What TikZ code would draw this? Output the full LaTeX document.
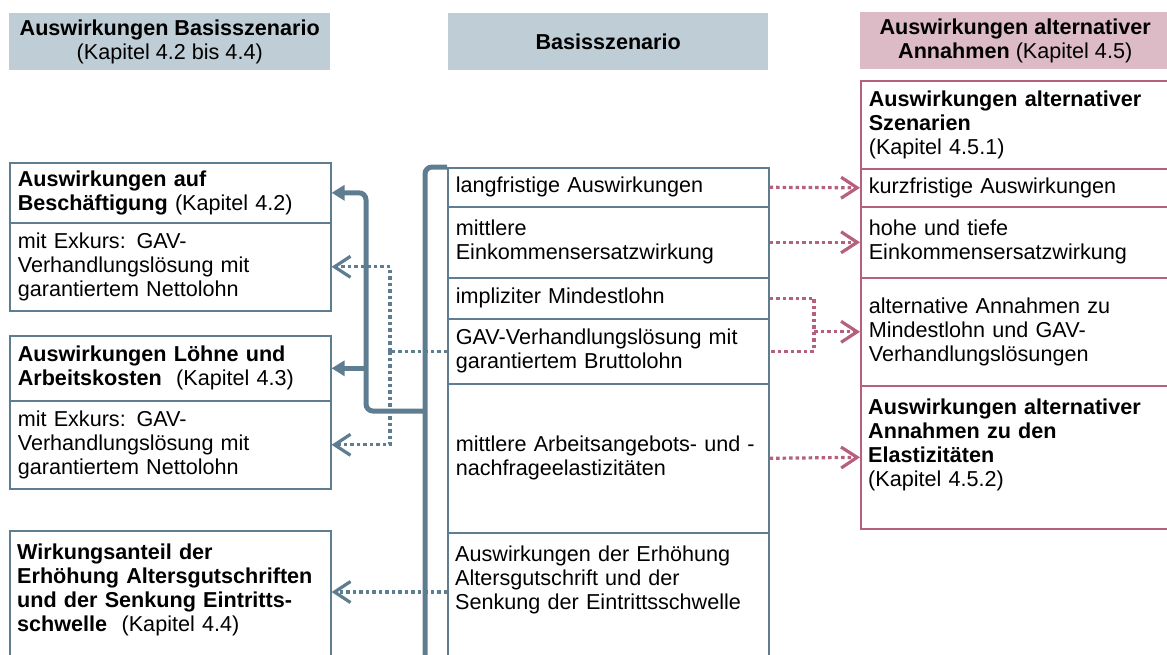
\documentclass[tikz,border=0pt]{standalone}
\usepackage{fontspec}
\setmainfont{Liberation Sans}
\usetikzlibrary{arrows.meta}

\definecolor{basisline}{HTML}{5E7D91}
\definecolor{basisfill}{HTML}{BFCED6}
\definecolor{altline}{HTML}{B5617D}
\definecolor{altfill}{HTML}{DDBBC6}

\begin{document}
\begin{tikzpicture}
  [x=1pt,y=-1pt,
   every node/.style={font=\fontsize{21.6}{24}\selectfont, inner xsep=8pt, inner ysep=4pt},
   head/.style={anchor=north west, minimum height=57pt, align=center, inner ysep=2pt},
   basisbox/.style={draw=basisline, line width=1.6pt, anchor=north west, text width=305pt, align=left},
   altbox/.style={draw=altline, line width=1.6pt, anchor=north west, text width=300pt, align=left},
   toptext/.style={anchor=north west, text width=300pt, align=left, inner ysep=14pt},
   brace/.style={draw=basisline, line width=5pt, rounded corners=7pt},
   basisdot/.style={draw=basisline, line width=3.2pt, dash pattern=on 3.5pt off 3pt},
   altdot/.style={draw=altline, line width=3.2pt, dash pattern=on 3.5pt off 3pt},
   fullhead/.style={-{Triangle[length=13pt,width=15pt]}},
   openhead/.style={-{Straight Barb[length=16pt,width=21pt]}}]
  \useasboundingbox (0,0) rectangle (1167,654);

  % headers
  \node[head, fill=basisfill, minimum width=321pt] (hl) at (9,13)
    {\textbf{Auswirkungen Basisszenario}\\(Kapitel 4.2 bis 4.4)};
  \node[head, fill=basisfill, minimum width=320pt] (hm) at (448,13) {\textbf{Basisszenario}};
  \node[head, fill=altfill, minimum width=310pt] (hr) at (860,12)
    {\textbf{Auswirkungen alternativer}\\\textbf{Annahmen} (Kapitel 4.5)};

  % Basisszenario, left
  \node[basisbox, minimum height=60pt] (a) at (9,162)
    {\textbf{Auswirkungen auf}\\\textbf{Beschäftigung} (Kapitel 4.2)};
  \node[basisbox, minimum height=88pt] (a2) at (9,222)
    {mit Exkurs: GAV-\\Verhandlungslösung mit\\garantiertem Nettolohn};
  \node[basisbox, minimum height=65pt] (b) at (9,335)
    {\textbf{Auswirkungen Löhne und}\\\textbf{Arbeitskosten}~~(Kapitel 4.3)};
  \node[basisbox, minimum height=88pt] (b2) at (9,400)
    {mit Exkurs: GAV-\\Verhandlungslösung mit\\garantiertem Nettolohn};
  \node[basisbox, minimum height=140pt] (c) at (9,530) {};
  \node[toptext] (ct) at (c.north west)
    {\textbf{Wirkungsanteil der}\\\textbf{Erhöhung Altersgutschriften}\\\textbf{und der Senkung Eintritts-}\\\textbf{schwelle}~~(Kapitel 4.4)};

  % Basisszenario, middle
  \node[basisbox, minimum height=39pt] (m1) at (447,167) {langfristige Auswirkungen};
  \node[basisbox, minimum height=71pt] (m2) at (447,206) {mittlere\\Einkommensersatzwirkung};
  \node[basisbox, minimum height=41pt] (m3) at (447,277) {impliziter Mindestlohn};
  \node[basisbox, minimum height=65pt] (m4) at (447,318) {GAV-Verhandlungslösung mit\\garantiertem Bruttolohn};
  \node[basisbox, minimum height=149pt] (m5) at (447,383) {mittlere Arbeitsangebots- und -\\nachfrageelastizitäten};
  \node[basisbox, minimum height=140pt] (m6) at (447,532) {};
  \node[toptext] (m6t) at (m6.north west)
    {Auswirkungen der Erhöhung\\Altersgutschrift und der\\Senkung der Eintrittsschwelle};

  % alternative Annahmen, right
  \node[altbox, minimum height=88pt] (r1) at (860,80)
    {\textbf{Auswirkungen alternativer}\\\textbf{Szenarien}\\(Kapitel 4.5.1)};
  \node[altbox, minimum height=38pt] (r2) at (860,168) {kurzfristige Auswirkungen};
  \node[altbox, minimum height=71pt] (r3) at (860,206) {hohe und tiefe\\Einkommensersatzwirkung};
  \node[altbox, minimum height=108pt] (r4) at (860,277)
    {alternative Annahmen zu\\Mindestlohn und GAV-\\Verhandlungslösungen};
  \node[altbox, minimum height=143pt] (r5) at (860,385) {};
  \node[toptext] (r5t) at (r5.north west)
    {\textbf{Auswirkungen alternativer}\\\textbf{Annahmen zu den}\\\textbf{Elastizitäten}\\(Kapitel 4.5.2)};

  % dotted links
  \draw[basisdot] (m4.west) -- ++(-57,0) coordinate (dj);
  \foreach \to in {a2,b2}
    \draw[basisdot,openhead] (dj) |- (\to.east);
  \coordinate (m6in) at (447,592);
  \draw[basisdot,openhead] (m6in) -- (c.east |- m6in);

  \foreach \from/\to in {m1/r2,m2/r3,m5/r5}
    \draw[altdot,openhead] (\from.east) -- (\to.west);
  \path (r4.west) ++(-46,0) coordinate (pj);
  \draw[altdot] (m3.east) -| (pj) |- (m4.east);
  \draw[altdot,openhead] (pj) -- (r4.west);

  % brace
  \coordinate (bb) at (425,665);
  \coordinate (bj) at (425,411);
  \coordinate (bk) at (366,411);
  \draw[brace] (m1.north west) -| (bb);
  \draw[brace,fullhead] (bj) -- (bk) |- (a.east);
  \draw[brace,fullhead,rounded corners=0pt] (bk |- b.east) -- (b.east);
\end{tikzpicture}
\end{document}
